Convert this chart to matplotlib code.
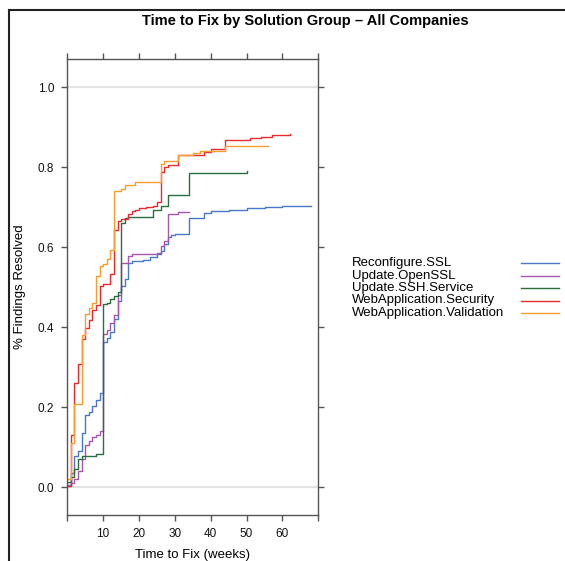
import matplotlib
matplotlib.use("Agg")
import matplotlib.pyplot as plt
from matplotlib.lines import Line2D

plt.rcParams['font.family'] = ['Liberation Sans', 'DejaVu Sans']

# Step data: week -> share of findings resolved
groups = ["Reconfigure.SSL", "Update.OpenSSL", "Update.SSH.Service",
          "WebApplication.Security", "WebApplication.Validation"]
colors = ["#4a78c8", "#a855ad", "#2a6e3e", "#ea2a2e", "#f79d2b"]

ssl_weeks = [0.3, 1, 2, 3, 4, 5, 6, 7, 8, 9, 10, 11, 12, 13, 14, 15, 16, 17, 18,
             21, 23, 25, 26, 27, 28, 29, 30, 34, 38, 40, 45, 50, 55, 60, 63, 68]
ssl_vals = [0.005, 0.035, 0.077, 0.09, 0.136, 0.18, 0.188, 0.2025, 0.217, 0.234,
            0.363, 0.372, 0.388, 0.42, 0.465, 0.5025, 0.52, 0.561, 0.565,
            0.569, 0.575, 0.582, 0.59, 0.607, 0.625, 0.63, 0.632, 0.672, 0.686,
            0.69, 0.693, 0.6985, 0.70, 0.702, 0.704, 0.704]

openssl_weeks = [0.3, 1, 2, 3, 4, 5, 6, 7, 8, 9, 10, 11, 12, 13, 14, 15, 17, 18,
                 25, 26, 27, 28, 31, 34]
openssl_vals = [0.003, 0.01, 0.02, 0.04, 0.07, 0.105, 0.115, 0.124, 0.13, 0.14,
                0.383, 0.394, 0.41, 0.43, 0.48, 0.561, 0.579, 0.5817, 0.586,
                0.603, 0.615, 0.682, 0.6876, 0.6876]

ssh_weeks = [0.3, 1, 2, 3, 4, 8, 10, 11, 12, 13, 14, 15, 16, 17, 24, 26, 28, 34, 50]
ssh_vals = [0.012, 0.025, 0.045, 0.07, 0.078, 0.083, 0.457, 0.461, 0.47, 0.478,
            0.487, 0.661, 0.672, 0.675, 0.694, 0.704, 0.73, 0.786, 0.79]

sec_weeks = [0.3, 1, 2, 3, 4, 5, 6, 7, 8, 9, 10, 12, 13, 14, 15, 17, 18, 19, 20,
             22, 24, 25, 26, 27, 28, 31, 38, 40, 44, 51, 54, 57, 62]
sec_vals = [0.003, 0.129, 0.261, 0.308, 0.37, 0.398, 0.419, 0.444, 0.455, 0.5025,
            0.507, 0.532, 0.644, 0.665, 0.671, 0.682, 0.69, 0.694, 0.697, 0.70,
            0.704, 0.712, 0.787, 0.80, 0.806, 0.83, 0.8375, 0.846, 0.869, 0.873,
            0.876, 0.881, 0.882]

val_weeks = [0.3, 1, 2, 4, 5, 6, 7, 8, 9, 10, 11, 12, 13, 15, 16, 19, 25, 26, 27,
             31, 35, 37, 44, 56]
val_vals = [0.02, 0.11, 0.207, 0.38, 0.434, 0.448, 0.46, 0.529, 0.552, 0.557,
            0.571, 0.592, 0.74, 0.745, 0.755, 0.762, 0.764, 0.8085, 0.815, 0.83,
            0.836, 0.84, 0.8525, 0.8525]

series = [(ssl_weeks, ssl_vals), (openssl_weeks, openssl_vals),
          (ssh_weeks, ssh_vals), (sec_weeks, sec_vals), (val_weeks, val_vals)]

xticks = [0, 10, 20, 30, 40, 50, 60, 70]
xtick_labels = ["", "10", "20", "30", "40", "50", "60", ""]
yticks = [0.0, 0.2, 0.4, 0.6, 0.8, 1.0]

W, H = 565, 561
fig = plt.figure(figsize=(W / 100, H / 100), dpi=100)

# outer frame (top and left edges visible in the crop)
fig.add_artist(Line2D([8.5 / W, 1], [1 - 9.5 / H, 1 - 9.5 / H], color="#222222", lw=1.5))
fig.add_artist(Line2D([8.5 / W, 8.5 / W], [0, 1 - 9.5 / H], color="#222222", lw=1.5))

ax = fig.add_axes([67.3 / W, 46 / H, 251 / W, 455.7 / H])
ax.axhline(0, color="#e3e3e3", lw=1.6, zorder=0)
ax.axhline(1, color="#e3e3e3", lw=1.6, zorder=0)

for (wk, vals), c in zip(series, colors):
    ax.step(wk, vals, where="post", color=c, lw=1.0)

ax.set_xlim(0, 70)
ax.set_ylim(-0.07, 1.07)
ax.set_xticks(xticks)
ax.set_xticklabels(xtick_labels)
ax.set_yticks(yticks)
ax.set_yticklabels([f"{v:.1f}" for v in yticks])
ax.tick_params(direction="out", length=4.5, width=1.0, color="#555555",
               labelsize=8.5, labelcolor="#111111", pad=5,
               top=True, right=True)
for s in ax.spines.values():
    s.set_color("#555555")
    s.set_linewidth(1.0)

ax.set_xlabel("Time to Fix (weeks)", fontsize=9.5, labelpad=6)
ax.set_ylabel("% Findings Resolved", fontsize=9.5, labelpad=8)

fig.text(305 / W, 1 - 21 / H, "Time to Fix by Solution Group \u2013 All Companies",
         ha="center", va="center", fontsize=10.5, fontweight="bold")

# legend: names on the left, line keys in a column on the right
rows = [263, 275.5, 288, 300.5, 313]
for name, c, y in zip(groups, colors, rows):
    fig.text(352 / W, 1 - y / H, name, ha="left", va="center", fontsize=9.5)
    fig.add_artist(Line2D([521 / W, 559 / W], [1 - y / H, 1 - y / H], color=c, lw=1.0))

fig.savefig("out.png", dpi=100)
